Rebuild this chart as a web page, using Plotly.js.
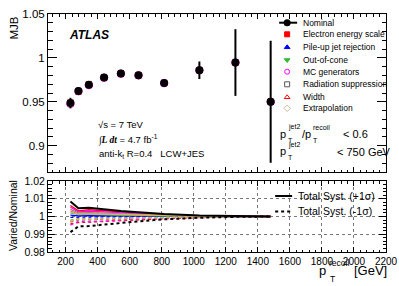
<!DOCTYPE html>
<html>
<head>
<meta charset="utf-8">
<script src="https://cdn.plot.ly/plotly-3.0.1.min.js"></script>
<style>html,body{margin:0;padding:0;background:#fff;}#chart{width:399px;height:286px;}</style>
</head>
<body>
<div id="chart"></div>
<script>
// ---- data ----
const ptRecoil = [230, 280, 345, 440, 545, 655, 815, 1035, 1260, 1480];
const mjbNominal = [0.9485, 0.9622, 0.9693, 0.9776, 0.9821, 0.9802, 0.9714, 0.9859, 0.9947, 0.9500];
const mjbError = [0.006, 0.004, 0.004, 0.003, 0.003, 0.003, 0.003, 0.010, 0.038, 0.0695];
// varied MJB values in the top panel (they sit almost exactly under the nominal points)
const mjbElecVar = [0.9492, 0.9616, 0.9699, 0.9779, 0.9823, 0.9804, 0.9715, 0.9860, 0.9947, 0.9500];
const mjbMcVar   = [0.9478, 0.9620, 0.9690, 0.9774, 0.9820, 0.9801, 0.9713, 0.9859, 0.9947, 0.9500];

const systNames = ["Electron energy scale", "Pile-up jet rejection", "Out-of-cone", "MC generators",
                   "Radiation suppression", "Width", "Extrapolation"];
const elecUp   = [1.0062,1.0032,1.0038,1.0032,1.0025,1.0019,1.0011,1.0005,1.0002,1.0];
const elecDown = [0.9958,0.9966,0.9968,0.9972,0.9978,0.9982,0.9988,0.9994,0.9998,1.0];
const puUp     = [1.0008,1.0004,1.0005,1.0004,1.0003,1.0002,1.0001,1.0,1.0,1.0];
const puDown   = [0.9995,0.9997,0.9997,0.9998,0.9998,0.9999,0.9999,1.0,1.0,1.0];
const oocUp    = [1.0020,1.0012,1.0012,1.0010,1.0008,1.0006,1.0004,1.0002,1.0001,1.0];
const oocDown  = [0.9980,0.9988,0.9988,0.9990,0.9992,0.9994,0.9996,0.9998,0.9999,1.0];
const mcUp     = [1.0052,1.0026,1.0030,1.0025,1.0020,1.0015,1.0009,1.0004,1.0001,1.0];
const mcDown   = [0.9952,0.9972,0.9970,0.9975,0.9980,0.9985,0.9991,0.9996,0.9999,1.0];
const radUp    = [1.0040,1.0020,1.0022,1.0018,1.0015,1.0012,1.0007,1.0003,1.0001,1.0];
const radDown  = [0.9968,0.9980,0.9980,0.9983,0.9986,0.9989,0.9993,0.9997,0.9999,1.0];
const widUp    = [1.0030,1.0016,1.0016,1.0014,1.0011,1.0009,1.0005,1.0002,1.0001,1.0];
const widDown  = [0.9972,0.9984,0.9984,0.9986,0.9989,0.9991,0.9995,0.9998,0.9999,1.0];
const extUp    = [1.0025,1.0014,1.0014,1.0012,1.0010,1.0008,1.0005,1.0002,1.0001,1.0];
const extDown  = [0.9975,0.9986,0.9986,0.9988,0.9990,0.9992,0.9995,0.9998,0.9999,1.0];
const totalUp   = [1.0085,1.0047,1.0049,1.0040,1.0031,1.0024,1.0014,1.0006,1.0002,1.0];
const totalDown = [0.9912,0.9944,0.9946,0.9955,0.9965,0.9973,0.9984,0.9993,0.9998,1.0];

// ---- styles ----
const F = "Liberation Sans, Arial, Helvetica, sans-serif";
const systStyle = [
  {up: elecUp, down: elecDown, color: "#ff0000", symbol: "square", lc: "#ff0000"},
  {up: puUp, down: puDown, color: "#0000ff", symbol: "triangle-up", lc: "#0000ff"},
  {up: oocUp, down: oocDown, color: "#33bb33", symbol: "triangle-down", lc: "#33bb33"},
  {up: mcUp, down: mcDown, color: "#ff00ff", symbol: "circle-open", lc: "#ff00ff"},
  {up: radUp, down: radDown, color: "#555555", symbol: "square-open", lc: "#888888"},
  {up: widUp, down: widDown, color: "#ff0000", symbol: "triangle-up-open", lc: "#ff6666"},
  {up: extUp, down: extDown, color: "#ccbb99", symbol: "diamond-open", lc: "#ccbb66"}
];

const traces = [];
// top panel: varied points (hidden behind nominal, only fringes show)
traces.push({x: ptRecoil, y: mjbMcVar, xaxis: "x", yaxis: "y", type: "scatter", mode: "markers",
  showlegend: false, marker: {symbol: "circle-open", color: "#ff00ff", size: 7.5, line: {color: "#ff00ff", width: 1}}});
traces.push({x: ptRecoil, y: mjbElecVar, xaxis: "x", yaxis: "y", type: "scatter", mode: "markers",
  showlegend: false, marker: {symbol: "square", color: "#ff0000", size: 6}});
traces.push({x: ptRecoil, y: mjbNominal, xaxis: "x", yaxis: "y", type: "scatter", mode: "markers",
  showlegend: false, name: "Nominal",
  marker: {symbol: "circle", color: "black", size: 8},
  error_y: {type: "data", array: mjbError, visible: true, color: "black", thickness: 2, width: 0}});

// bottom panel: ratios
systStyle.forEach((s, i) => {
  traces.push({x: ptRecoil, y: s.up, xaxis: "x2", yaxis: "y2", type: "scatter", mode: "lines",
    showlegend: false, line: {color: s.lc, width: 1.3}});
  traces.push({x: ptRecoil, y: s.down, xaxis: "x2", yaxis: "y2", type: "scatter", mode: "lines",
    showlegend: false, line: {color: s.lc, width: 1.3, dash: "dot"}});
});
traces.push({x: ptRecoil, y: totalUp, xaxis: "x2", yaxis: "y2", type: "scatter", mode: "lines",
  showlegend: false, line: {color: "black", width: 2}});
traces.push({x: ptRecoil, y: totalDown, xaxis: "x2", yaxis: "y2", type: "scatter", mode: "lines",
  showlegend: false, line: {color: "black", width: 2, dash: "dot"}});

// legend drawn in an overlay frame (x3/y3 span the whole plot area, range 0..1)
const plotL = 47.5, plotR = 386, plotT = 14, plotB = 252;
const px = p => (p - plotL) / (plotR - plotL);
const py = p => (plotB - p) / (plotB - plotT);
const legRows = [22.7, 34.3, 47.3, 60, 71.7, 84.3, 97.3, 108.3];
traces.push({x: [px(287)], y: [py(legRows[0])], xaxis: "x3", yaxis: "y3", type: "scatter", mode: "markers",
  showlegend: false, cliponaxis: false, marker: {symbol: "circle", color: "black", size: 7}});
systStyle.forEach((s, i) => {
  traces.push({x: [px(287)], y: [py(legRows[i + 1])], xaxis: "x3", yaxis: "y3", type: "scatter", mode: "markers",
    showlegend: false, cliponaxis: false,
    marker: {symbol: s.symbol, color: s.color, size: 5, line: {color: s.color, width: 1}}});
});

const ann = [];
const txt = (text, x, y, size, opts) => ann.push(Object.assign({text: text, xref: "paper", yref: "paper",
  x: px(x), y: py(y), xanchor: "left", yanchor: "middle", showarrow: false,
  font: {family: F, size: size, color: "black"}}, opts || {}));

txt("Nominal", 301, legRows[0], 8.5);
systNames.forEach((n, i) => txt(n, 301, legRows[i + 1], 8.5));

txt("<b><i>ATLAS</i></b>", 67, 35, 12);
txt("\u221As = 7 TeV", 96, 124, 9.5);
txt("<span style=\"font-family:Liberation Serif\">\u222B<b><i>L dt</i></b></span> = 4.7 fb<sup>-1</sup>", 96, 139, 9.5);
txt("anti-k<sub>t</sub> R=0.4   LCW+JES", 97, 154, 9.5);

// right-hand cut text
txt("p", 278, 134, 11); txt("jet2", 285.5, 127, 7); txt("T", 285.5, 140, 7);
txt("/p", 299.5, 134, 11); txt("recoil", 311, 127, 7); txt("T", 311, 140, 7);
txt("< 0.6", 341, 134, 11);
txt("p", 278, 151, 11); txt("jet2", 285.5, 144.5, 7); txt("T", 285.5, 157.5, 7);
txt("< 750 GeV", 335, 152, 11);

// ratio legend
txt("Total Syst. (+1\u03C3)", 296, 196, 10.5);
txt("Total Syst. (-1\u03C3)", 296, 211.5, 10.5);

// axis titles
txt("MJB", 12.5, 15, 11.5, {textangle: -90, xanchor: "center", yanchor: "top"});
txt("Varied/Nominal", 12.5, 216, 10.5, {textangle: -90, xanchor: "center", yanchor: "middle"});
txt("p", 317, 270, 13); txt("recoil", 326.5, 263, 8.5); txt("T", 327.5, 279, 8.5);
txt("[GeV]", 352, 270, 13);

const shapes = [
  {type: "line", xref: "paper", yref: "paper", x0: px(279), x1: px(297), y0: py(legRows[0]), y1: py(legRows[0]),
   line: {color: "black", width: 2}},
  {type: "line", xref: "paper", yref: "paper", x0: px(275), x1: px(292), y0: py(196), y1: py(196),
   line: {color: "black", width: 2}},
  {type: "line", xref: "paper", yref: "paper", x0: px(275), x1: px(292), y0: py(211.5), y1: py(211.5),
   line: {color: "black", width: 2, dash: "dot"}}
];

const xr = [90, 2200];
const baseAxis = {showline: true, linecolor: "black", linewidth: 1, mirror: "ticks", ticks: "inside",
  tickcolor: "black", zeroline: false, showgrid: false, fixedrange: true};

const layout = {
  width: 399, height: 286,
  margin: {l: plotL, r: 399 - plotR, t: plotT, b: 286 - plotB, pad: 0},
  paper_bgcolor: "white", plot_bgcolor: "rgba(0,0,0,0)",
  showlegend: false,
  font: {family: F, size: 10, color: "black"},
  xaxis: Object.assign({}, baseAxis, {domain: [0, 1], anchor: "y", range: xr, dtick: 200, tick0: 0,
    showticklabels: false, ticklen: 5, minor: {dtick: 40, ticklen: 2.5, ticks: "inside", tickcolor: "black"}}),
  yaxis: Object.assign({}, baseAxis, {domain: [py(172), 1], anchor: "x", range: [0.87, 1.05], dtick: 0.05, tick0: 0,
    ticklen: 9, tickfont: {family: F, size: 11.5}, minor: {dtick: 0.01, ticklen: 4.5, ticks: "inside", tickcolor: "black"}}),
  xaxis2: Object.assign({}, baseAxis, {domain: [0, 1], anchor: "y2", range: xr, dtick: 200, tick0: 0,
    ticklen: 5, tickfont: {family: F, size: 10}, showgrid: true, gridcolor: "#777", griddash: "dot", gridwidth: 1,
    minor: {dtick: 40, ticklen: 2.5, ticks: "inside", tickcolor: "black"}}),
  yaxis2: Object.assign({}, baseAxis, {domain: [0, py(181)], anchor: "x2", range: [0.98, 1.02], dtick: 0.01, tick0: 0,
    ticklen: 7, tickfont: {family: F, size: 10.5}, showgrid: true, gridcolor: "#777", griddash: "dot", gridwidth: 1,
    minor: {dtick: 0.002, ticklen: 3.5, ticks: "inside", tickcolor: "black"}}),
  xaxis3: {domain: [0, 1], anchor: "y3", range: [0, 1], visible: false, fixedrange: true},
  yaxis3: {domain: [0, 1], anchor: "x3", range: [0, 1], visible: false, fixedrange: true},
  annotations: ann,
  shapes: shapes
};

Plotly.newPlot("chart", traces, layout, {staticPlot: true, displayModeBar: false});
</script>
</body>
</html>
